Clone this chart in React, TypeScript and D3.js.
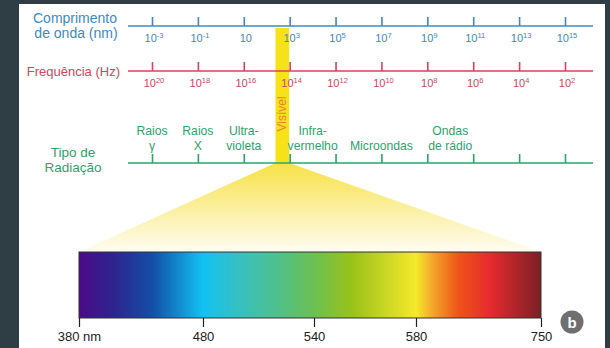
import React, { useEffect, useRef } from 'react';
import * as d3 from 'd3';

// wavelength (nm) and frequency (Hz) tick exponents
const wavelengthExps = [-3, -1, 1, 3, 5, 7, 9, 11, 13, 15];
const frequencyExps = [20, 18, 16, 14, 12, 10, 8, 6, 4, 2];
const extraGreenTicks = [1e-3, 1e-1, 1e1, 1e3, 1e5, 1e7, 1e9, 1e11, 1e13, 1e15];

// radiation types, positioned along the wavelength axis
const radiationNames = [['Raios', 'γ'], ['Raios', 'X'], ['Ultra-', 'violeta'], ['Infra-', 'vermelho'], ['', 'Microondas'], ['Ondas', 'de rádio']];
const radiationAt = [1e-3, 1e-1, 1e1, 1e4, 1e7, 1e10];

// visible band drawn on the log axis (nm)
const visibleBand = [240, 950];

// spectrum tick labels and colour stops (nm)
const spectrumTicks = [380, 480, 540, 580, 750];
const spectrumStopsNm = [380, 410, 440, 480, 500, 520, 540, 555, 580, 605, 638, 681, 750];
const spectrumColors = ['#4a0a88', '#2b2790', '#1350a8', '#12c2f2', '#38c0c0', '#4fc08c', '#6cc052', '#9ac21a', '#f5e92a', '#f3a02a', '#ee5418', '#e62a2e', '#7a2026'];

const BLUE = '#3b8bc6';
const RED = '#d2455c';
const GREEN = '#2ea36b';
const FONT = 'Liberation Sans, Arial, sans-serif';

const App = () => {
  const svgRef = useRef<SVGSVGElement>(null);

  useEffect(() => {
    const svg = d3.select(svgRef.current);
    svg.selectAll('*').remove();
    const W = 610, H = 348;

    const x = d3.scaleLog().domain([1e-3, 1e15]).range([152, 565]);
    const xf = d3.scaleLog().domain([1e20, 1e2]).range([152, 565]);
    const lineX0 = 128, lineX1 = 593;
    const yBlue = 26, yRed = 71, yGreen = 163;

    // spectrum scale (piecewise)
    const sx = d3.scaleLinear().domain(spectrumTicks).range([79, 203, 314, 416, 541]);
    const specTop = 252, specBottom = 318;

    const defs = svg.append('defs');
    const grad = defs.append('linearGradient').attr('id', 'spec').attr('gradientUnits', 'userSpaceOnUse')
      .attr('x1', sx(380)).attr('x2', sx(750)).attr('y1', 0).attr('y2', 0);
    spectrumStopsNm.forEach((nm, i) => {
      grad.append('stop').attr('offset', (sx(nm) - sx(380)) / (sx(750) - sx(380))).attr('stop-color', spectrumColors[i]);
    });
    const fan = defs.append('linearGradient').attr('id', 'fan').attr('x1', 0).attr('x2', 0).attr('y1', 0).attr('y2', 1);
    fan.append('stop').attr('offset', 0).attr('stop-color', '#f7e146');
    fan.append('stop').attr('offset', 0.5).attr('stop-color', '#fbef9e');
    fan.append('stop').attr('offset', 1).attr('stop-color', '#fffcf2');

    // background
    svg.append('rect').attr('width', W).attr('height', H).attr('fill', '#2f3d45');
    svg.append('rect').attr('x', 19).attr('y', 4).attr('width', 586).attr('height', H - 4).attr('fill', '#ffffff');

    // visible band + fan
    const bx0 = x(visibleBand[0]), bx1 = x(visibleBand[1]);
    svg.append('path')
      .attr('d', `M${bx0},${yGreen}L${bx1},${yGreen}L${sx(750)},${specTop}L${sx(380)},${specTop}Z`)
      .attr('fill', 'url(#fan)');
    svg.append('rect').attr('x', bx0).attr('y', yBlue + 2).attr('width', bx1 - bx0).attr('height', yGreen - yBlue - 2)
      .attr('fill', '#f7e21a');
    svg.append('text')
      .attr('transform', `translate(${(bx0 + bx1) / 2 + 4},114) rotate(-90)`)
      .attr('text-anchor', 'middle').attr('font-family', FONT).attr('font-size', 12).attr('fill', '#e3862a')
      .text('Visível');

    const drawAxis = (y: number, color: string, vals: number[], scale: any) => {
      const g = svg.append('g').attr('transform', `translate(0,${y})`);
      g.append('line').attr('x1', lineX0).attr('x2', lineX1).attr('stroke', color).attr('stroke-width', 1.6);
      g.call(d3.axisTop(scale).tickValues(vals).tickSize(9).tickSizeOuter(0).tickFormat(() => ''));
      g.select('.domain').remove();
      g.selectAll('.tick line').attr('stroke', color).attr('stroke-width', 1.6);
      return g;
    };

    const powLabel = (g: any, px: number, y: number, exp: number, color: string) => {
      const t = g.append('text').attr('x', px).attr('y', y).attr('text-anchor', 'middle')
        .attr('font-family', FONT).attr('font-size', 11).attr('fill', color);
      t.append('tspan').text('10');
      if (exp !== 1) {
        t.append('tspan').attr('font-size', 7.5).attr('dy', -4).text(exp < 0 ? `-${-exp}` : `${exp}`);
      }
    };

    // wavelength axis
    drawAxis(yBlue, BLUE, wavelengthExps.map(e => Math.pow(10, e)), x);
    wavelengthExps.forEach(e => powLabel(svg, x(Math.pow(10, e)) + 2, 42, e, BLUE));
    const blueTitle = svg.append('text').attr('font-family', FONT).attr('font-size', 14).attr('fill', BLUE).attr('text-anchor', 'middle');
    blueTitle.append('tspan').attr('x', 75).attr('y', 23).text('Comprimento');
    blueTitle.append('tspan').attr('x', 76).attr('y', 38).text('de onda (nm)');

    // frequency axis
    drawAxis(yRed, RED, frequencyExps.map(e => Math.pow(10, e)), xf);
    frequencyExps.forEach(e => powLabel(svg, xf(Math.pow(10, e)) + 2, 87, e, RED));
    svg.append('text').attr('x', 120).attr('y', 76).attr('text-anchor', 'end')
      .attr('font-family', FONT).attr('font-size', 13).attr('fill', RED).text('Frequência (Hz)');

    // radiation type axis
    drawAxis(yGreen, GREEN, extraGreenTicks, x);
    const greenTitle = svg.append('text').attr('font-family', FONT).attr('font-size', 13.5).attr('fill', GREEN).attr('text-anchor', 'middle');
    greenTitle.append('tspan').attr('x', 73).attr('y', 157).text('Tipo de');
    greenTitle.append('tspan').attr('x', 73).attr('y', 172).text('Radiação');
    radiationNames.forEach((lines, i) => {
      lines.forEach((line, j) => {
        if (!line) return;
        svg.append('text').attr('x', x(radiationAt[i])).attr('y', j === 0 ? 135 : 149.5)
          .attr('font-family', FONT).attr('font-size', 12.2).attr('fill', GREEN).attr('text-anchor', 'middle')
          .text(line);
      });
    });

    // spectrum
    svg.append('rect').attr('x', sx(380)).attr('y', specTop).attr('width', sx(750) - sx(380)).attr('height', specBottom - specTop)
      .attr('fill', 'url(#spec)').attr('stroke', '#333').attr('stroke-width', 1);
    const sg = svg.append('g').attr('transform', `translate(0,${specBottom})`)
      .call(d3.axisBottom(sx).tickValues(spectrumTicks).tickSize(9).tickSizeOuter(0)
        .tickFormat((d: any) => (d === 380 ? '380 nm' : `${d}`)));
    sg.select('.domain').remove();
    sg.selectAll('.tick line').attr('stroke', '#222').attr('stroke-width', 1.2);
    sg.selectAll('.tick text').attr('font-family', FONT).attr('font-size', 13).attr('fill', '#222').attr('y', 11).attr('dy', '0.95em');

    // panel letter
    svg.append('circle').attr('cx', 572).attr('cy', 322).attr('r', 11.5).attr('fill', '#6f6f6f');
    svg.append('text').attr('x', 572).attr('y', 327.5).attr('text-anchor', 'middle').attr('font-family', FONT)
      .attr('font-weight', 'bold').attr('font-size', 15).attr('fill', '#fff').text('b');
  }, []);

  return (
    <svg ref={svgRef} width={610} height={348} style={{ position: 'fixed', left: 0, top: 0 }} />
  );
};

export default App;
